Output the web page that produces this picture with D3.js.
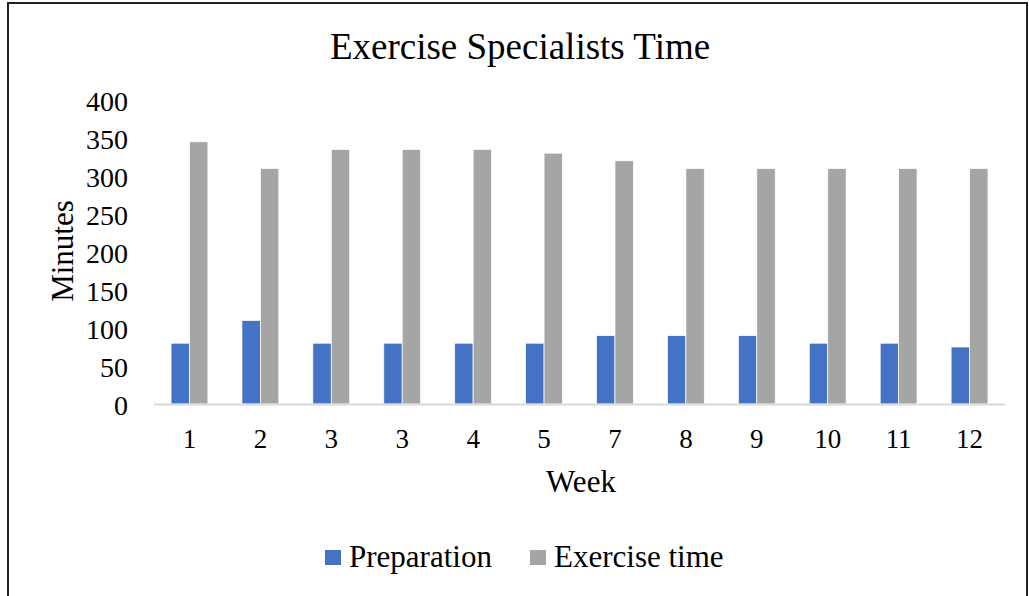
<!DOCTYPE html>
<html>
<head>
<meta charset="utf-8">
<script src="https://cdn.jsdelivr.net/npm/d3@7"></script>
<style>
  html, body { margin: 0; padding: 0; background: #fff; }
  svg { display: block; font-family: "Liberation Serif", "Times New Roman", serif; }
</style>
</head>
<body>
<svg id="chart" width="1029" height="596"></svg>
<script>
// Weekly time split for the exercise specialists (minutes)
const weeks = ["1", "2", "3", "3", "4", "5", "7", "8", "9", "10", "11", "12"];
const preparation = [80, 110, 80, 80, 80, 80, 90, 90, 90, 80, 80, 75];
const exerciseTime = [345, 310, 335, 335, 335, 330, 320, 310, 310, 310, 310, 310];
const yTicks = [0, 50, 100, 150, 200, 250, 300, 350, 400];
const seriesNames = ["Preparation", "Exercise time"];
const seriesColors = ["#4472C4", "#A5A5A5"];

const svg = d3.select("#chart");
const W = 1029, H = 596;

// outer frame
svg.append("rect")
  .attr("x", 8).attr("y", 3)
  .attr("width", W - 10).attr("height", H + 10)
  .attr("fill", "#fff").attr("stroke", "#222").attr("stroke-width", 2);

const plot = { left: 154, right: 1005, top: 100, bottom: 404 };

// weeks repeat, so categories are keyed by position
const idx = weeks.map((_, i) => i);
const x = d3.scaleBand().domain(idx).range([plot.left, plot.right]).paddingInner(0.48).paddingOuter(0.24);
const x1 = d3.scaleBand().domain([0, 1]).range([0, x.bandwidth()]);
const y = d3.scaleLinear().domain([0, 400]).range([plot.bottom, plot.top]);

// title
svg.append("text")
  .attr("x", 520).attr("y", 59)
  .attr("text-anchor", "middle").attr("font-size", 37).attr("fill", "#000")
  .text("Exercise Specialists Time");

// bars
const series = [preparation, exerciseTime];
series.forEach((vals, s) => {
  svg.append("g").selectAll("rect").data(vals).join("rect")
    .attr("x", (d, i) => x(i) + x1(s))
    .attr("y", d => y(d))
    .attr("width", x1.bandwidth())
    .attr("height", d => y(0) - y(d))
    .attr("fill", seriesColors[s])
    .attr("stroke", "#fff").attr("stroke-width", 0.75);
});

// y axis (labels only)
const yAxis = d3.axisLeft(y).tickValues(yTicks).tickSize(0).tickPadding(0);
const gy = svg.append("g").attr("transform", `translate(128,0)`).call(yAxis);
gy.select(".domain").remove();
gy.selectAll("text").attr("font-size", 28).attr("fill", "#000").attr("dy", "0.36em")
  .attr("font-family", "Liberation Serif, serif");

// x axis
const xAxis = d3.axisBottom(x).tickFormat(i => weeks[i]).tickSize(0).tickPadding(0);
const gx = svg.append("g").attr("transform", `translate(0,${plot.bottom})`).call(xAxis);
gx.select(".domain").remove();
gx.selectAll("text").attr("font-size", 27).attr("fill", "#000")
  .attr("y", 44).attr("dy", 0)
  .attr("font-family", "Liberation Serif, serif");
svg.append("line")
  .attr("x1", plot.left).attr("x2", plot.right)
  .attr("y1", plot.bottom + 0.5).attr("y2", plot.bottom + 0.5)
  .attr("stroke", "#D9D9D9").attr("stroke-width", 2);

// axis titles
svg.append("text")
  .attr("x", 581).attr("y", 492)
  .attr("text-anchor", "middle").attr("font-size", 31).text("Week");
svg.append("text")
  .attr("transform", `translate(73,251) rotate(-90)`)
  .attr("text-anchor", "middle").attr("font-size", 31).text("Minutes");

// legend
const legend = svg.append("g");
const legendX = [325, 530];
seriesNames.forEach((name, s) => {
  legend.append("rect")
    .attr("x", legendX[s]).attr("y", 550)
    .attr("width", 16).attr("height", 15).attr("fill", seriesColors[s]);
  legend.append("text")
    .attr("x", legendX[s] + 24).attr("y", 567)
    .attr("font-size", 31).text(name);
});
</script>
</body>
</html>
